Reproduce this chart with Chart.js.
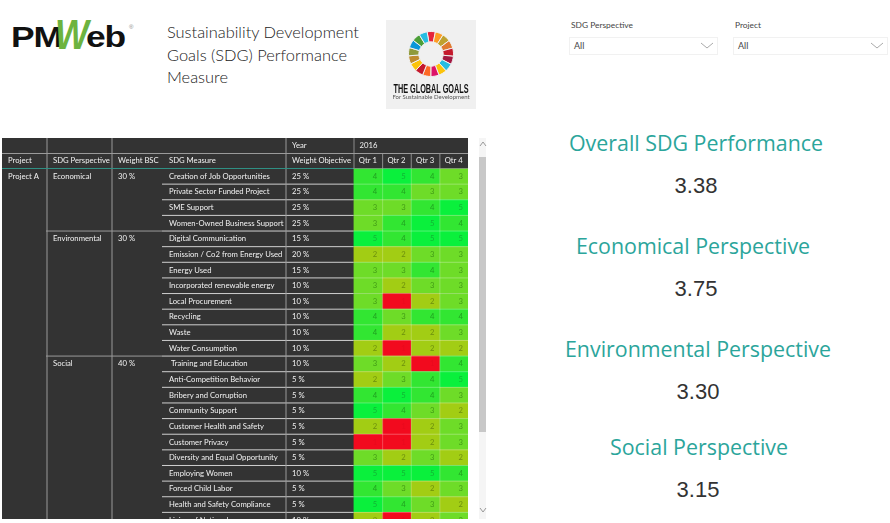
<!DOCTYPE html>
<html>
<head>
<meta charset="utf-8">
<script src="https://cdn.jsdelivr.net/npm/chart.js@4/dist/chart.umd.min.js"></script>
<style>
    html, body { margin: 0; padding: 0; background: #fff; width: 890px; height: 523px; overflow: hidden; }
    body { font-family: Lato, "Open Sans", sans-serif; color: #333; }
    .abs { position: absolute; white-space: nowrap; }
    .logo { top: 21px; font: bold 29px "Liberation Sans", sans-serif; color: #111; letter-spacing: -1px; transform: scaleX(1.22); transform-origin: left top; }
    .logo-w { left: 55px; top: 11px; color: #6cb33f; font: italic bold 42px "Liberation Sans", sans-serif; transform: scaleX(0.85); transform-origin: left top; }
    .reg { left: 129px; top: 24px; font: 6px "Liberation Sans", sans-serif; color: #888; }
    .title { left: 167px; top: 21px; font: 300 16.4px/22.7px Lato, sans-serif; color: #222; }
    .goals-box { left: 386px; top: 20px; width: 90px; height: 89px; background: #f0f0f0; }
    .goals-1 { left: 361px; width: 140px; top: 81px; text-align: center; font: bold 13px "Liberation Sans", sans-serif; color: #111; transform: scaleX(0.56); }
    .goals-2 { left: 386px; width: 90px; top: 93px; text-align: center; font: 6px Lato, sans-serif; color: #555; }
    .slicer-label { top: 20px; font: 8.4px Lato, sans-serif; color: #444; }
    .slicer { top: 37px; height: 16px; border: 1px solid #f1f1f1; }
    .slicer span { position: absolute; left: 4px; top: 2px; font: 9px Lato, sans-serif; color: #444; }
    .slicer svg { position: absolute; right: 3px; top: 4px; }
    .kpi-title { font: 21.4px "Open Sans", sans-serif; color: #2ba59b; transform: translateX(-50%); }
    .kpi-value { font: 22px "Liberation Sans", sans-serif; color: #333; transform: translateX(-50%); }
    #tableClip { position: absolute; left: 2px; top: 138px; width: 466px; height: 381px; overflow: hidden; }
    #scroll { position: absolute; left: 479px; top: 138px; width: 7px; height: 381px; background: #f5f5f5; }
    #thumb { position: absolute; left: 0; top: 19px; width: 7px; height: 275px; background: #c8c8c8; }
</style>
</head>
<body>
    <div class="abs logo" style="left:11px">PM</div>
    <div class="abs logo-w">W</div>
    <div class="abs logo" style="left:86px">eb</div>
    <div class="abs reg">®</div>
    <div class="abs title">Sustainability Development<br>Goals (SDG) Performance<br>Measure</div>

    <div class="abs goals-box"></div>
    <div class="abs" style="left:401px;top:24px;width:60px;height:60px"><canvas id="ring" width="60" height="60"></canvas></div>
    <div class="abs goals-1">THE GLOBAL GOALS</div>
    <div class="abs goals-2">For Sustainable Development</div>

    <div class="abs slicer-label" style="left:571px">SDG Perspective</div>
    <div class="abs slicer" style="left:569px;width:147px"><span>All</span><svg width="14" height="8"><path d="M1 1 L7 6 L13 1" fill="none" stroke="#aaa"/></svg></div>
    <div class="abs slicer-label" style="left:735px">Project</div>
    <div class="abs slicer" style="left:733px;width:153px"><span>All</span><svg width="14" height="8"><path d="M1 1 L7 6 L13 1" fill="none" stroke="#aaa"/></svg></div>

    <div id="kpis"></div>

    <div id="tableClip"><canvas id="heat" width="466" height="390"></canvas></div>
    <div id="scroll"><div id="thumb"></div></div>
    <svg class="abs" style="left:479px;top:141px" width="8" height="6"><path d="M1 5 L4 1 L7 5" fill="none" stroke="#999"/></svg>
    <svg class="abs" style="left:479px;top:507px" width="8" height="6"><path d="M1 1 L4 5 L7 1" fill="none" stroke="#999"/></svg>

<script>
const measures = [
    'Creation of Job Opportunities', 'Private Sector Funded Project', 'SME Support', 'Women-Owned Business Support',
    'Digital Communication', 'Emission / Co2 from Energy Used', 'Energy Used', 'Incorporated renewable energy',
    'Local Procurement', 'Recycling', 'Waste', 'Water Consumption',
    ' Training and Education', 'Anti-Competition Behavior', 'Bribery and Corruption', 'Community Support',
    'Customer Health and Safety', 'Customer Privacy', 'Diversity and Equal Opportunity', 'Employing Women',
    'Forced Child Labor', 'Health and Safety Compliance', 'Living of National'
];
const weightObjective = [25, 25, 25, 25, 15, 20, 15, 10, 10, 10, 10, 10, 10, 5, 5, 5, 5, 5, 5, 10, 5, 5, 10];
const qtr1 = [4, 4, 3, 3, 5, 2, 3, 3, 3, 4, 4, 2, 3, 2, 4, 5, 2, 1, 3, 5, 4, 5, 2];
const qtr2 = [5, 4, 3, 4, 4, 2, 3, 2, 1, 3, 2, 1, 2, 3, 5, 4, 1, 1, 2, 5, 3, 4, 1];
const qtr3 = [4, 3, 4, 5, 5, 3, 4, 3, 2, 4, 2, 2, 1, 4, 4, 3, 2, 2, 3, 5, 2, 3, 2];
const qtr4 = [3, 3, 5, 4, 5, 3, 3, 3, 3, 4, 3, 2, 4, 5, 3, 2, 3, 3, 2, 4, 3, 2, 3];
const quarters = ['Qtr 1', 'Qtr 2', 'Qtr 3', 'Qtr 4'];
const quarterScores = [qtr1, qtr2, qtr3, qtr4];

const perspectives = ['Economical', 'Environmental', 'Social'];
const perspectiveWeights = [30, 30, 40];
const perspectiveFirstRow = [0, 4, 12];

const kpiTitles = ['Overall SDG Performance', 'Economical Perspective', 'Environmental Perspective', 'Social Perspective'];
const kpiValues = ['3.38', '3.75', '3.30', '3.15'];
const kpiTitleX = [696, 693, 698, 699];
const kpiValueX = [696, 696, 698, 698];
const kpiTitleY = [128, 231, 334, 432];
const kpiValueY = [173, 276, 379, 477];

// colour by score, index 0 is score 1
const scoreColors = ['#f20a1e', '#a2cd14', '#6edc28', '#32e632', '#0af03c'];
const scoreTextColors = ['#e80a1e', '#6c8e0e', '#429c16', '#20a020', '#12b434'];
const goalColors = ['#e5243b', '#fd9d24', '#bfa12e', '#e07a30', '#c5192d', '#a21942', '#26bde2', '#fcc30b', '#dd1367',
    '#fd6925', '#c5192d', '#fcc30b', '#bf8b2e', '#8f9a3a', '#0a97d9', '#4c9f38', '#26bde2'];
const goalSlices = goalColors.map(() => 1);

kpiTitles.forEach((t, i) => {
    const a = document.createElement('div');
    a.className = 'abs kpi-title';
    a.style.left = kpiTitleX[i] + 'px';
    a.style.top = kpiTitleY[i] + 'px';
    a.textContent = t;
    const b = document.createElement('div');
    b.className = 'abs kpi-value';
    b.style.left = kpiValueX[i] + 'px';
    b.style.top = kpiValueY[i] + 'px';
    b.textContent = kpiValues[i];
    document.getElementById('kpis').append(a, b);
});

new Chart(document.getElementById('ring'), {
    type: 'doughnut',
    data: { labels: goalColors, datasets: [{ data: goalSlices, backgroundColor: goalColors, borderWidth: 1, borderColor: '#f0f0f0' }] },
    options: {
        responsive: false, animation: false, cutout: '54%', rotation: -10,
        layout: { padding: 7 },
        plugins: { legend: { display: false }, tooltip: { enabled: false } }
    }
});

// everything around the coloured cells: dark panel, headers, row text, rules
const FONT = '7.7px Lato, "Open Sans", sans-serif';
const panel = {
    id: 'panel',
    beforeDraw(chart) {
        const c = chart.ctx;
        c.save();
        c.fillStyle = '#333333';
        c.fillRect(0, 0, chart.width, chart.height);
        c.restore();
    },
    afterDatasetsDraw(chart) {
        const c = chart.ctx, xs = chart.scales.x, ys = chart.scales.y;
        const rowTop = i => ys.getPixelForValue(i) - ys.height / measures.length / 2;
        const headTop = chart.chartArea.top;
        const text = (s, x, y, col, align) => {
            c.fillStyle = col || '#f2f2f2';
            c.textAlign = align || 'left';
            c.fillText(s, x, y);
        };
        c.save();
        c.font = FONT;
        c.textBaseline = 'middle';

        // row rules
        measures.forEach((m, i) => {
            c.fillStyle = '#cfcfcf';
            c.fillRect(160, rowTop(i) - 0.5, xs.left - 160, 1);
            c.fillStyle = 'rgba(255,255,255,0.3)';
            c.fillRect(xs.left, rowTop(i) - 0.5, xs.width, 1);
            const y = ys.getPixelForValue(i);
            text(m, 167, y);
            text(weightObjective[i] + ' %', 290, y);
            quarterScores.forEach((q, k) => {
                text(String(q[i]), xs.getPixelForValue(k + 1) - 5, y, scoreTextColors[q[i] - 1], 'right');
            });
        });

        // columns
        c.fillStyle = '#9a9a9a';
        [44.5, 109.5, 283.5].forEach(x => c.fillRect(x, 0, 1, chart.height));
        c.fillStyle = 'rgba(255,255,255,0.25)';
        [1, 2, 3].forEach(k => c.fillRect(xs.getPixelForValue(k), headTop, 1, ys.height));
        c.fillStyle = '#8c8c8c';
        [1, 2, 3].forEach(k => c.fillRect(xs.getPixelForValue(k), 15, 1, 15));
        c.fillRect(xs.left, 0, 1, 30);

        // perspective groups
        perspectives.forEach((p, i) => {
            const r = perspectiveFirstRow[i];
            const y = ys.getPixelForValue(r);
            if (i > 0) {
                c.fillStyle = '#9a9a9a';
                c.fillRect(44, rowTop(r) - 0.5, 116, 1);
            }
            text(p, 51, y);
            text(perspectiveWeights[i] + ' %', 116, y);
        });
        text('Project A', 6, ys.getPixelForValue(0));

        // header rows
        c.fillStyle = '#9a9a9a';
        c.fillRect(0, 15, chart.width, 1);
        c.fillStyle = '#2f8f83';
        c.fillRect(0, headTop - 0.5, xs.left, 1);
        text('Year', 290, 7.5);
        text('2016', xs.left + 6, 7.5);
        text('Project', 6, 23);
        text('SDG Perspective', 51, 23);
        text('Weight BSC', 116, 23);
        text('SDG Measure', 167, 23);
        text('Weight Objective', 290, 23);
        quarters.forEach((q, k) => text(q, xs.getPixelForValue(k + 0.5), 23, '#f2f2f2', 'center'));
        c.restore();
    }
};

new Chart(document.getElementById('heat'), {
    type: 'bar',
    data: {
        labels: measures,
        datasets: quarterScores.map((q, k) => ({
            label: quarters[k],
            data: q.map(() => 1),
            backgroundColor: q.map(s => scoreColors[s - 1]),
            borderWidth: 0,
            barPercentage: 1,
            categoryPercentage: 1
        }))
    },
    options: {
        indexAxis: 'y',
        responsive: false,
        animation: false,
        layout: { padding: { left: 351.5, top: 30.5, right: 0, bottom: 0 } },
        scales: {
            x: { display: false, stacked: true, min: 0, max: 4 },
            y: { display: false, stacked: true }
        },
        plugins: { legend: { display: false }, tooltip: { enabled: false } }
    },
    plugins: [panel]
});
</script>
</body>
</html>
